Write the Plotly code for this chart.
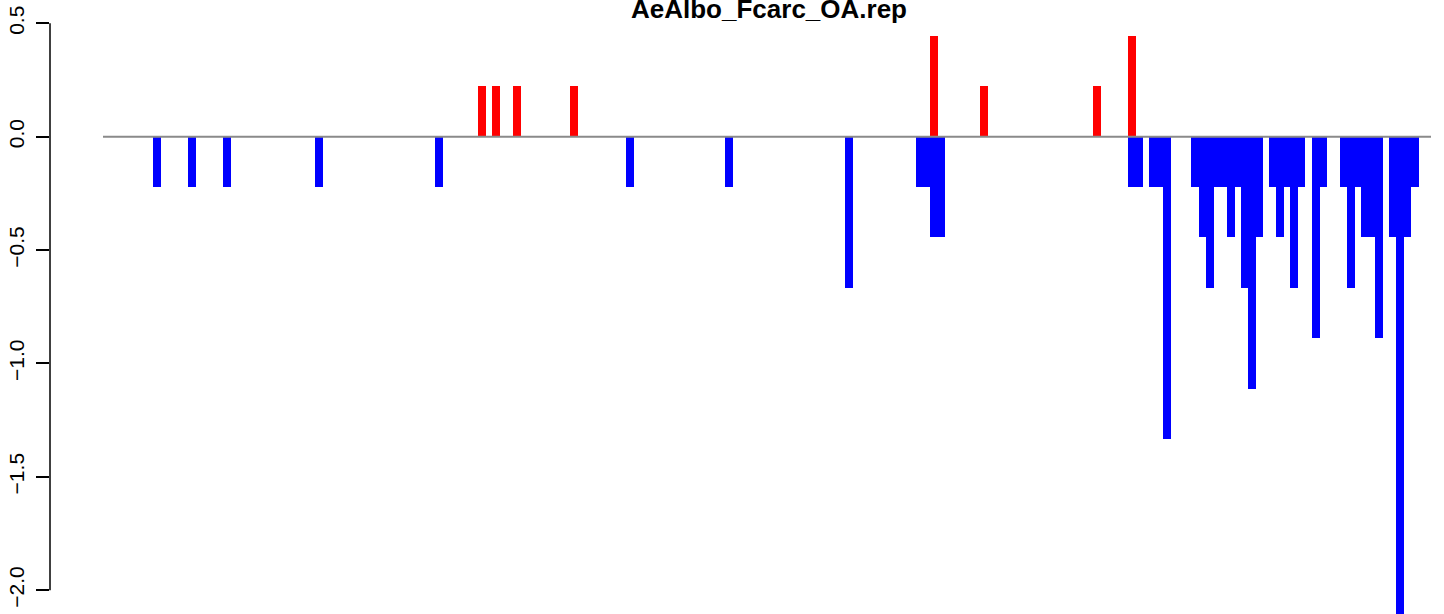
import plotly.graph_objects as go

# Bar positions (left edge, arbitrary position units) and values
neg_pos = [153, 188, 223, 315, 435, 626, 725, 845,
           916, 923, 930, 937,
           1128, 1135,
           1149, 1156, 1163,
           1191, 1199, 1206, 1213, 1220, 1227, 1234, 1241, 1248, 1255,
           1269, 1276, 1283, 1290, 1297,
           1312, 1319,
           1340, 1347, 1354, 1361, 1368, 1375,
           1389, 1396, 1403, 1411]
neg_val = [-0.222, -0.222, -0.222, -0.222, -0.222, -0.222, -0.222, -0.667,
           -0.222, -0.222, -0.444, -0.444,
           -0.222, -0.222,
           -0.222, -0.222, -1.333,
           -0.222, -0.444, -0.667, -0.222, -0.222, -0.444, -0.222, -0.667, -1.111, -0.444,
           -0.222, -0.444, -0.222, -0.667, -0.222,
           -0.889, -0.222,
           -0.222, -0.667, -0.222, -0.444, -0.444, -0.889,
           -0.444, -2.111, -0.444, -0.222]

pos_pos = [478, 492, 513, 570, 930, 980, 1093, 1128]
pos_val = [0.222, 0.222, 0.222, 0.222, 0.444, 0.222, 0.222, 0.444]

y_ticks = [0.5, 0.0, -0.5, -1.0, -1.5, -2.0]
y_tick_text = ["0.5", "0.0", "\u22120.5", "\u22121.0", "\u22121.5", "\u22122.0"]

track_start, track_end = 103, 1431
title_text = "AeAlbo_Fcarc_OA.rep"

BAR_W = 8

fig = go.Figure()
fig.add_trace(go.Bar(x=[p + BAR_W / 2 for p in neg_pos], y=neg_val, width=BAR_W,
                     marker=dict(color="#0000FF", line=dict(width=0)), showlegend=False))
fig.add_trace(go.Bar(x=[p + BAR_W / 2 for p in pos_pos], y=pos_val, width=BAR_W,
                     marker=dict(color="#FF0000", line=dict(width=0)), showlegend=False))

# zero reference line
fig.add_shape(type="line", xref="x", yref="y", x0=track_start, x1=track_end, y0=0, y1=0,
              line=dict(color="#8a8a8a", width=2), layer="above")
# R-style y axis line spanning only tick range
fig.add_shape(type="line", xref="paper", yref="y", x0=0, x1=0, y0=min(y_ticks), y1=max(y_ticks),
              line=dict(color="black", width=1.5), layer="above")

fig.add_annotation(text="<b>" + title_text + "</b>", xref="x", x=769, yref="paper", y=1,
                   yanchor="bottom", yshift=-26, showarrow=False,
                   font=dict(family="Liberation Sans, Arial, sans-serif", size=26, color="black"))

fig.update_layout(
    width=1444, height=614,
    margin=dict(l=50, r=0, t=0, b=0, autoexpand=False),
    plot_bgcolor="white", paper_bgcolor="white",
    barmode="overlay", bargap=0,
    xaxis=dict(range=[50, 1444], visible=False, showgrid=False, zeroline=False, automargin=False),
    yaxis=dict(range=[-2.105, 0.603], showgrid=False, zeroline=False, showline=False,
               automargin=False,
               ticks="outside", ticklen=13, tickwidth=1.5, tickcolor="black",
               tickvals=y_ticks, ticktext=y_tick_text, tickangle=-90, ticklabelstandoff=4,
               tickfont=dict(family="Liberation Sans, Arial, sans-serif", size=21, color="black")),
    font=dict(family="Liberation Sans, Arial, sans-serif"),
)

fig.write_html("out.html", config={"displayModeBar": False},
               post_script="document.body.style.margin='0';document.body.style.overflow='hidden';")
